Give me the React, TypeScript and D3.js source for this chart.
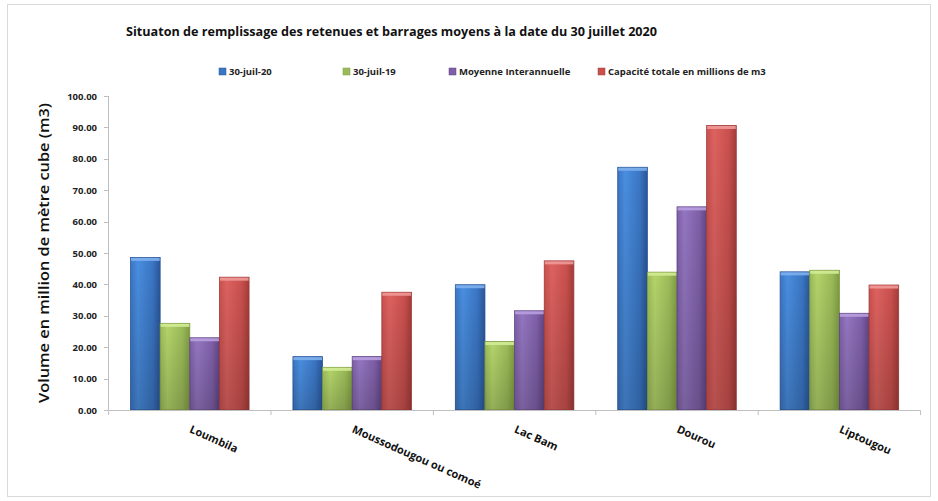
import React from "react";
import * as d3 from "d3";

const categories = ["Loumbila", "Moussodougou ou comoé", "Lac Bam", "Dourou", "Liptougou"];
const seriesNames = ["30-juil-20", "30-juil-19", "Moyenne Interannuelle", "Capacité totale en millions de m3"];
const juil20 = [48.6, 17.0, 39.9, 77.3, 44.0];
const juil19 = [27.6, 13.6, 21.8, 43.9, 44.5];
const moyenne = [23.0, 17.0, 31.6, 64.7, 30.8];
const capacite = [42.3, 37.5, 47.5, 90.6, 39.8];
const yTicks = [0, 10, 20, 30, 40, 50, 60, 70, 80, 90, 100];

const seriesValues = [juil20, juil19, moyenne, capacite];
const colors = [
  { light: "#4a8ee0", mid: "#3a76c4", dark: "#2a5699", top: "#7fb0ee" },
  { light: "#b4d46a", mid: "#9bbb59", dark: "#7f9c40", top: "#d2ec96" },
  { light: "#9376c0", mid: "#7f5fa8", dark: "#5f4585", top: "#b9a0e0" },
  { light: "#dd6260", mid: "#c9504d", dark: "#a33c3a", top: "#f09a98" },
];
const legendX = [219, 343, 449, 598];

export default function App() {
  const W = 938, H = 501;
  const x0 = d3.scaleBand<string>().domain(categories).range([108.6, 920.6]).paddingInner(0.27).paddingOuter(0.135);
  const x1 = d3.scaleBand<number>().domain([0, 1, 2, 3]).range([0, x0.bandwidth()]);
  const y = d3.scaleLinear().domain([0, 100]).range([410, 96]);
  const full = d3.scaleBand<string>().domain(categories).range([108.6, 920.6]);
  const font = "'Open Sans', 'Liberation Sans', sans-serif";

  return (
    <div style={{ position: "absolute", left: 0, top: 0 }}>
      <svg width={W} height={H} style={{ display: "block", background: "#fff" }}>
        <defs>
          {colors.map((c, i) => (
            <linearGradient key={i} id={`g${i}`} x1="0" x2="1" y1="0" y2="0">
              <stop offset="0" stopColor={c.mid} />
              <stop offset="0.25" stopColor={c.light} />
              <stop offset="0.75" stopColor={c.mid} />
              <stop offset="1" stopColor={c.dark} />
            </linearGradient>
          ))}
          {colors.map((c, i) => (
            <linearGradient key={`v${i}`} id={`v${i}`} x1="0" x2="0" y1="0" y2="1">
              <stop offset="0" stopColor="#000" stopOpacity="0" />
              <stop offset="1" stopColor="#000" stopOpacity="0.18" />
            </linearGradient>
          ))}
        </defs>
        <rect x={7.5} y={4.5} width={923} height={492} fill="#fff" stroke="#d9d9d9" />
        <text x={126} y={36} fontFamily={font} fontWeight="bold" fontSize={13} fill="#111"
          textLength={531} lengthAdjust="spacingAndGlyphs">
          Situaton de remplissage des retenues et barrages moyens à la date du 30 juillet 2020
        </text>
        {seriesNames.map((s, i) => (
          <g key={s}>
            <rect x={legendX[i]} y={68} width={7} height={7} fill={colors[i].mid} stroke={colors[i].dark} strokeWidth={0.5} />
            <text x={legendX[i] + 10} y={75} fontFamily={font} fontWeight="bold" fontSize={9.5} fill="#222">{s}</text>
          </g>
        ))}
        {/* y axis */}
        <line x1={108.5} x2={108.5} y1={y(100)} y2={y(0)} stroke="#bfbfbf" />
        {yTicks.map(t => (
          <g key={t}>
            <line x1={104} x2={108.5} y1={Math.round(y(t)) + 0.5} y2={Math.round(y(t)) + 0.5} stroke="#bfbfbf" />
            <text x={97} y={y(t) + 3.5} textAnchor="end" fontFamily={font} fontWeight="bold" fontSize={9.5} fill="#222">{t.toFixed(2)}</text>
          </g>
        ))}
        <text transform={`translate(49,${253}) rotate(-90)`} textAnchor="middle" fontFamily={font} fontWeight="600" fontSize={15} fill="#111"
          textLength={300} lengthAdjust="spacingAndGlyphs">Volume en million de mètre cube (m3)</text>
        {/* bars */}
        {categories.map((c, ci) => (
          <g key={c}>
            {seriesValues.map((vals, si) => {
              const bx = (x0(c) as number) + (x1(si) as number);
              const bw = x1.bandwidth();
              const by = y(vals[ci]);
              const bh = y(0) - by;
              return (
                <g key={si}>
                  <rect x={bx} y={by} width={bw} height={bh} fill={`url(#g${si})`} stroke={colors[si].dark} strokeWidth={0.8} />
                  <rect x={bx} y={by} width={bw} height={bh} fill={`url(#v${si})`} />
                  <rect x={bx + 0.5} y={by + 0.5} width={bw - 1} height={3} fill={colors[si].top} opacity={0.9} />
                </g>
              );
            })}
          </g>
        ))}
        {/* x axis */}
        <line x1={108.6} x2={920.6} y1={410.5} y2={410.5} stroke="#bfbfbf" />
        {[...categories.map(c => full(c) as number), 920.6].map((t, i) => (
          <line key={i} x1={t} x2={t} y1={410.5} y2={415} stroke="#bfbfbf" />
        ))}
        {categories.map(c => {
          const cx = (full(c) as number) + full.bandwidth() / 2;
          return (
            <text key={c} transform={`translate(${cx - 1},${432}) rotate(24)`} fontFamily={font} fontWeight="bold" fontSize={11} fill="#111">{c}</text>
          );
        })}
      </svg>
    </div>
  );
}
